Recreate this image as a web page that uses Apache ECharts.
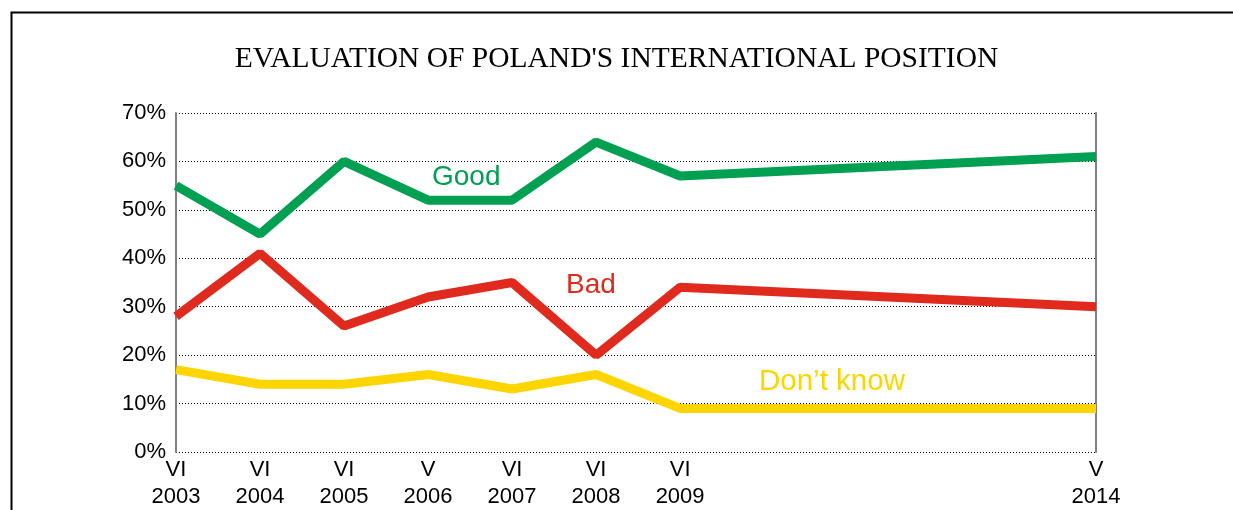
<!DOCTYPE html>
<html><head><meta charset="utf-8">
<script src="https://cdn.jsdelivr.net/npm/echarts@6/dist/echarts.min.js"></script>
<style>html,body{margin:0;padding:0;background:#fff}#c{width:1233px;height:510px}</style>
</head><body><div id="c"></div>
<script>
const surveyPos = [2003.5, 2004.5, 2005.5, 2006.5, 2007.5, 2008.5, 2009.5, 2014.45];
const surveyLabels = ['VI\n2003','VI\n2004','VI\n2005','V\n2006','VI\n2007','VI\n2008','VI\n2009','V\n2014'];
const good = [55, 45, 60, 52, 52, 64, 57, 61];
const bad = [28, 41, 26, 32, 35, 20, 34, 30];
const dontKnow = [17, 14, 14, 16, 13, 16, 9, 9];

const labelMap = {};
surveyPos.forEach((p,i)=>labelMap[p]=surveyLabels[i]);
const pair = arr => arr.map((v,i)=>[surveyPos[i], v]);

const chart = echarts.init(document.getElementById('c'));
chart.setOption({
  animation:false,
  backgroundColor:'#fff',
  title:{text:"EVALUATION OF POLAND'S INTERNATIONAL POSITION", left:'center', top:39,
    textStyle:{fontFamily:'Liberation Serif', fontWeight:'normal', fontSize:29.5, color:'#000'}},
  grid:{left:176, right:137, top:113, bottom:57},
  xAxis:{type:'value', min:surveyPos[0], max:surveyPos[surveyPos.length-1],
    axisLine:{show:false}, axisTick:{show:false}, splitLine:{show:false},
    axisLabel:{customValues:surveyPos, formatter:v=>labelMap[v]||'', color:'#000',
      fontFamily:'Liberation Sans', fontSize:22, lineHeight:27, margin:4}},
  yAxis:[{type:'value', min:0, max:70, interval:10,
    axisLine:{show:true, lineStyle:{color:'#808080', width:2}}, axisTick:{show:false},
    splitLine:{show:true, lineStyle:{color:'#000', type:[1,2], width:1}},
    axisLabel:{formatter:'{value}%', color:'#000', fontFamily:'Liberation Sans', fontSize:22, margin:10}},
    {type:'value', min:0, max:70, interval:10, position:'right',
    axisLine:{show:true, lineStyle:{color:'#808080', width:2}}, axisTick:{show:false},
    splitLine:{show:false}, axisLabel:{show:false}}],
  series:[
    {name:'Good', type:'line', data:pair(good), showSymbol:false, symbol:'none', lineStyle:{color:'#00A052', width:9}},
    {name:'Bad', type:'line', data:pair(bad), showSymbol:false, symbol:'none', lineStyle:{color:'#E02A1E', width:9}},
    {name:"Don't know", type:'line', data:pair(dontKnow), showSymbol:false, symbol:'none', lineStyle:{color:'#FFD500', width:9}}
  ],
  graphic:[
    {type:'rect', left:9, top:10, shape:{width:1240, height:520}, style:{fill:'none', stroke:'#000', lineWidth:2}},
    {type:'text', left:432, top:163, style:{text:'Good', fill:'#00A052', font:'28px "Liberation Sans"'}},
    {type:'text', left:566, top:271, style:{text:'Bad', fill:'#E02A1E', font:'28px "Liberation Sans"'}},
    {type:'text', left:759, top:367, style:{text:'Don\u2019t know', fill:'#FFD500', font:'29.5px "Liberation Sans"'}}
  ]
});
</script></body></html>
